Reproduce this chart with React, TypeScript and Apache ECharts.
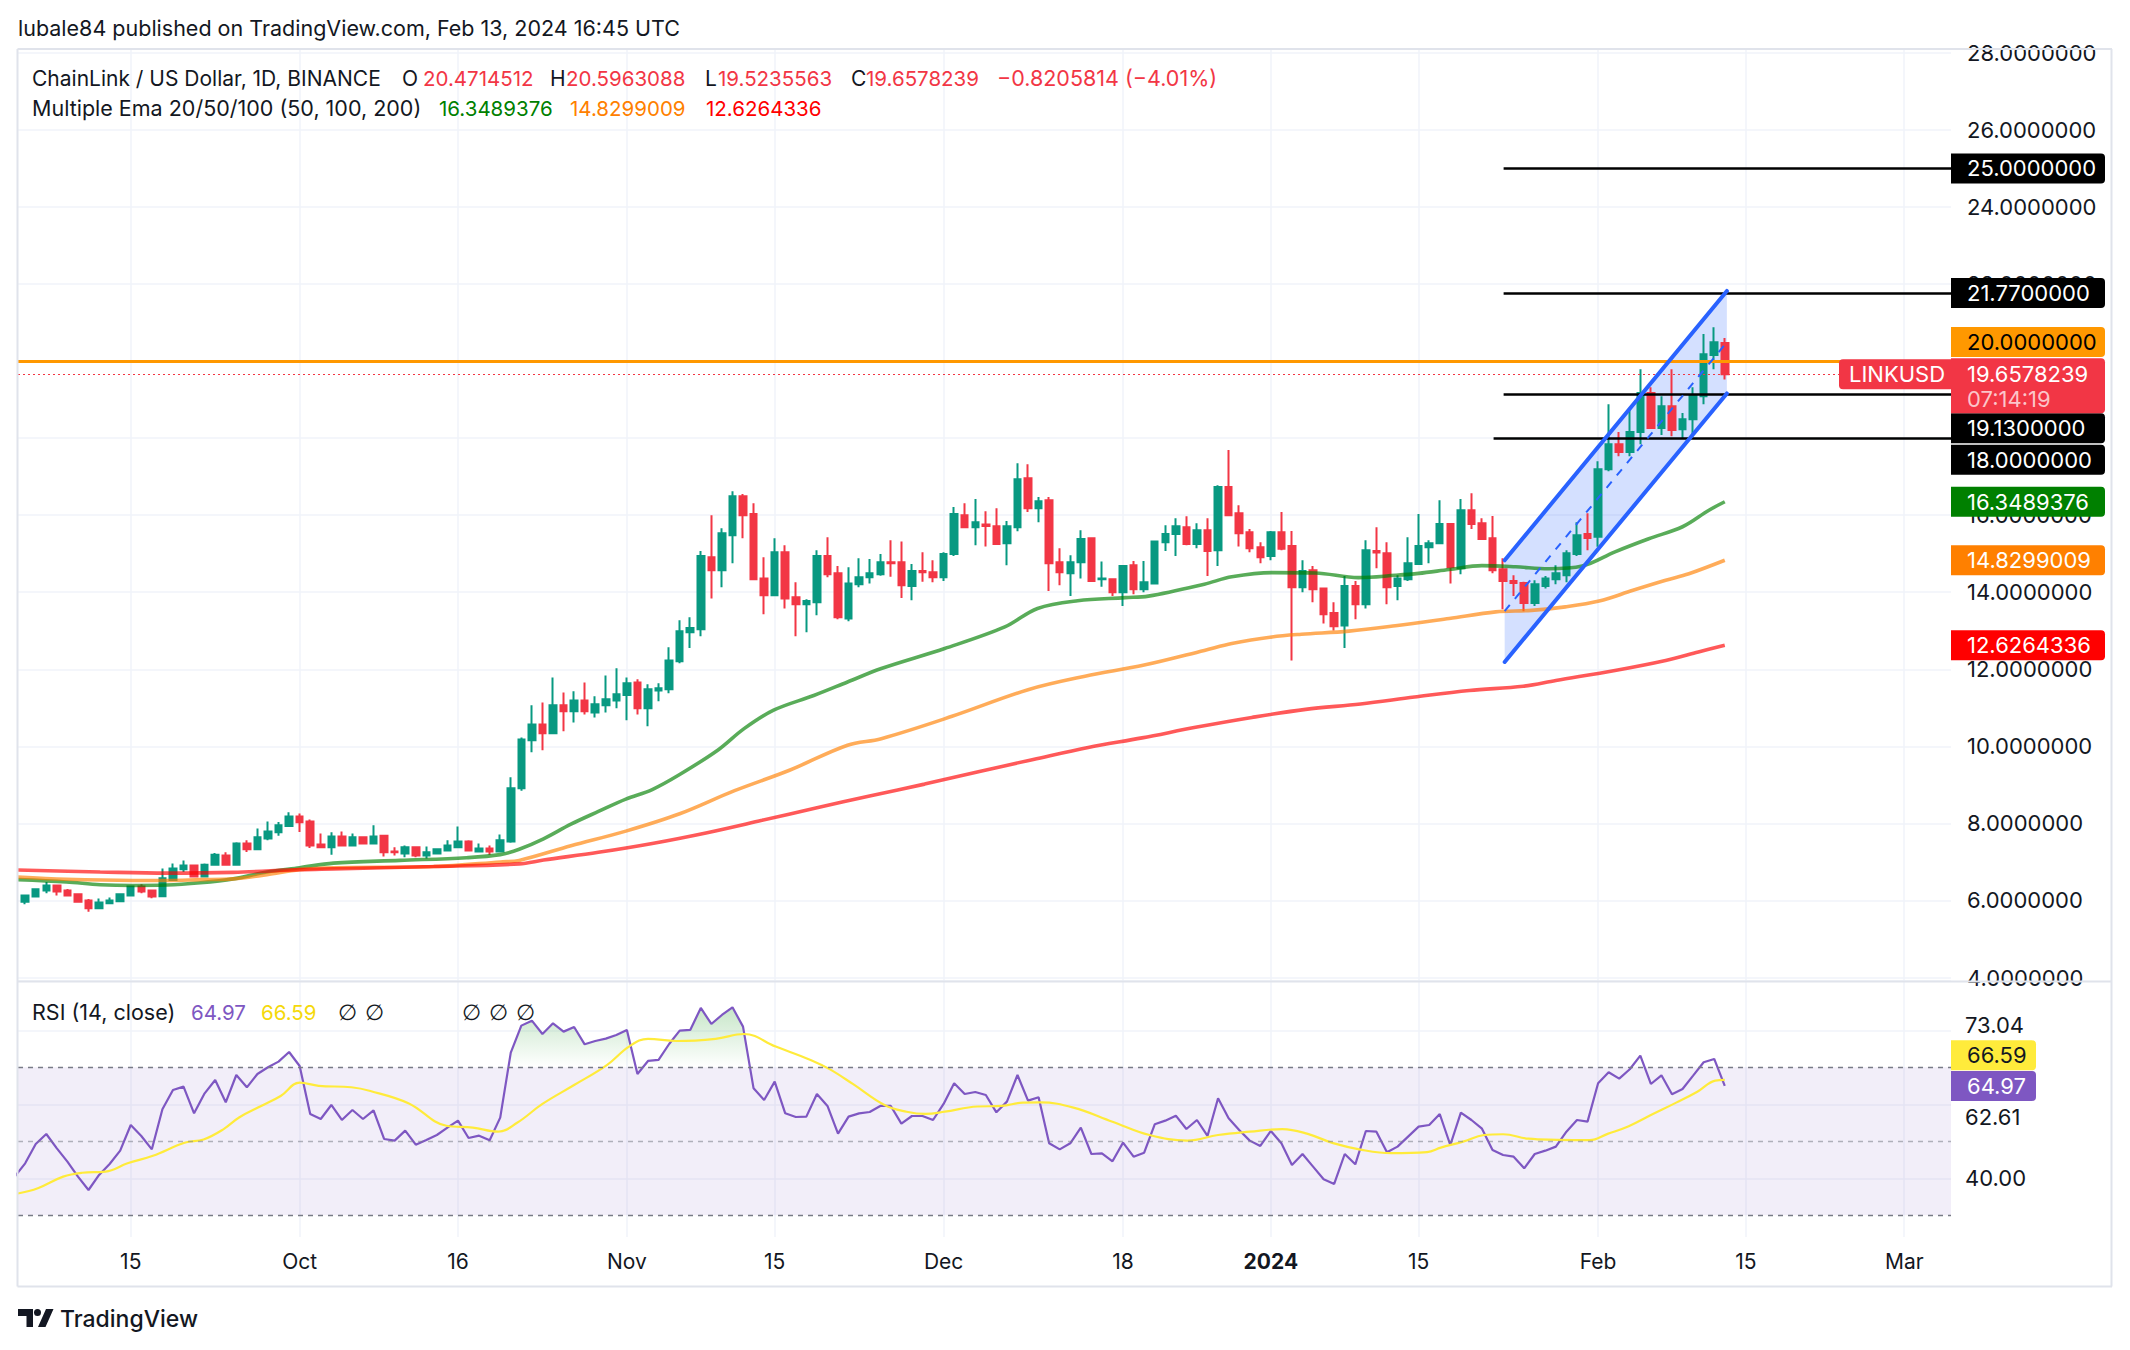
import React, { useEffect, useRef } from "react";
import * as echarts from "echarts";

// ---------------- data ----------------
// daily candles, index 0 = 2023-09-04 ... index 162 = 2024-02-13
const candleOpen = [
  6.04, 5.97, 6.10, 6.26, 6.39, 6.26, 6.16, 6.00, 5.80, 5.93, 5.98, 6.13, 6.36, 6.26, 6.11, 6.53, 6.81, 6.91, 6.62, 6.93, 7.17, 6.93, 7.48, 7.33, 7.61, 7.77, 7.93, 8.18, 8.05, 7.45, 7.38, 7.66, 7.43, 7.64, 7.48, 7.68, 7.27, 7.22, 7.38, 7.17, 7.22, 7.30, 7.38, 7.53, 7.27, 7.35, 7.27, 7.53,
  8.91, 10.16, 10.57, 10.34, 11.07, 10.91, 11.19, 10.88, 11.07, 11.19, 11.33, 11.66, 10.99, 11.45, 11.48, 12.21, 12.96, 13.04, 14.91, 14.57, 15.48, 16.49, 16.03, 14.36, 13.92, 15.04, 13.87, 13.69, 13.74, 14.94, 14.49, 13.32, 14.21, 14.39, 14.47,
  14.78, 14.78, 14.16, 14.55, 14.52, 14.39, 14.99, 16.00, 15.69, 15.76, 15.71, 15.27, 15.69, 16.96, 16.18, 16.39, 14.78, 14.49, 14.78, 15.40, 14.34, 14.34, 14.00, 14.70, 14.08, 14.23, 15.30, 15.51, 15.69, 15.25, 15.61, 15.09, 16.73, 16.05, 15.56, 15.17, 14.94,
  15.56, 15.20, 14.13, 14.57, 14.10, 13.46, 13.14, 14.16, 13.69, 15.07, 15.01, 14.16, 14.34, 14.73, 15.17, 15.27, 15.77, 14.62, 16.13, 15.79, 15.40, 14.60, 14.29,
  14.24, 13.72, 14.16, 14.34, 14.44, 14.99, 15.51, 15.44, 17.19, 17.84, 17.64, 18.16, 19.17, 18.26, 18.83, 18.23, 18.49, 19.09, 20.16, 20.4714512,
];
const candleClose = [
  6.01, 6.13, 6.29, 6.39, 6.23, 6.13, 5.97, 5.80, 5.95, 6.00, 6.16, 6.36, 6.23, 6.10, 6.58, 6.83, 6.91, 6.62, 6.93, 7.19, 6.93, 7.48, 7.33, 7.64, 7.79, 7.95, 8.18, 8.03, 7.43, 7.38, 7.66, 7.43, 7.64, 7.48, 7.66, 7.25, 7.25, 7.38, 7.17, 7.25, 7.33, 7.43, 7.53, 7.30, 7.35, 7.27, 7.56, 8.91,
  10.18, 10.57, 10.34, 11.07, 10.91, 11.19, 10.91, 11.09, 11.22, 11.35, 11.64, 10.99, 11.48, 11.51, 12.23, 12.99, 13.07, 14.94, 14.57, 15.53, 16.49, 16.00, 14.34, 13.92, 15.04, 13.84, 13.69, 13.77, 14.94, 14.47, 13.35, 14.23, 14.39, 14.49, 14.78,
  14.75, 14.18, 14.55, 14.52, 14.39, 14.99, 16.03, 15.69, 15.82, 15.72, 15.25, 15.71, 16.93, 16.18, 16.36, 14.75, 14.52, 14.78, 15.38, 14.29, 14.36, 14.00, 14.68, 14.08, 14.26, 15.32, 15.51, 15.71, 15.25, 15.61, 15.07, 16.73, 16.00, 15.53, 15.14, 14.91, 15.56,
  15.13, 14.13, 14.55, 14.08, 13.43, 13.12, 14.16, 13.69, 15.09, 15.03, 14.13, 14.36, 14.75, 15.20, 15.27, 15.77, 14.65, 16.13, 15.77, 15.38, 14.57, 14.29, 14.24,
  13.72, 14.21, 14.36, 14.49, 15.01, 15.48, 15.41, 17.19, 17.84, 17.64, 18.16, 19.17, 18.26, 18.83, 18.21, 18.49, 19.12, 20.18, 20.49, 19.6578239,
];
const candleLow = [
  5.99, 5.90, 6.09, 6.19, 6.13, 6.12, 5.95, 5.71, 5.80, 5.93, 5.97, 6.10, 6.19, 6.06, 6.10, 6.52, 6.74, 6.62, 6.62, 6.91, 6.93, 6.93, 7.26, 7.33, 7.56, 7.68, 7.93, 7.78, 7.36, 7.36, 7.19, 7.43, 7.43, 7.45, 7.48, 7.14, 7.17, 7.12, 7.12, 7.09, 7.22, 7.27, 7.38, 7.30, 7.27, 7.19, 7.25, 7.50,
  8.85, 9.85, 9.90, 10.34, 10.39, 10.62, 10.83, 10.75, 10.88, 10.99, 10.68, 10.83, 10.52, 11.17, 11.38, 12.16, 12.55, 12.86, 13.84, 14.13, 14.75, 15.40, 14.34, 13.43, 13.92, 13.58, 12.86, 12.96, 13.40, 14.39, 13.30, 13.25, 14.13, 14.23, 14.43,
  14.40, 13.85, 13.79, 14.27, 14.26, 14.29, 14.94, 15.69, 15.22, 15.19, 15.25, 14.70, 15.58, 16.08, 15.82, 14.03, 14.18, 13.90, 14.36, 14.29, 14.14, 13.90, 13.64, 13.95, 14.00, 14.21, 15.07, 14.94, 15.22, 15.14, 14.42, 14.68, 16.00, 15.19, 15.04, 14.75, 14.83,
  15.09, 12.23, 14.00, 13.74, 13.19, 13.01, 12.55, 13.30, 13.58, 14.62, 13.69, 13.79, 14.29, 14.73, 14.75, 15.27, 14.23, 14.47, 15.64, 15.38, 14.49, 13.56, 13.90,
  13.51, 13.64, 14.10, 14.21, 14.26, 14.94, 15.09, 15.18, 17.14, 17.53, 17.53, 17.84, 18.26, 18.08, 18.05, 18.00, 18.05, 18.88, 19.79, 19.5235563,
];
const candleHigh = [
  6.05, 6.14, 6.32, 6.48, 6.40, 6.30, 6.16, 6.04, 6.05, 6.08, 6.16, 6.37, 6.42, 6.26, 6.83, 6.96, 7.04, 6.93, 6.96, 7.23, 7.25, 7.51, 7.56, 7.87, 8.05, 8.04, 8.29, 8.26, 8.10, 7.74, 7.77, 7.79, 7.74, 7.66, 7.95, 7.69, 7.38, 7.43, 7.40, 7.40, 7.35, 7.56, 7.92, 7.56, 7.48, 7.43, 7.71, 9.20,
  10.23, 11.07, 11.14, 11.79, 11.40, 11.43, 11.66, 11.30, 11.84, 12.03, 11.79, 11.74, 11.61, 11.64, 12.57, 13.27, 13.35, 15.07, 16.00, 15.66, 16.62, 16.55, 16.31, 14.91, 15.40, 15.22, 14.26, 13.82, 15.09, 15.43, 14.68, 14.65, 14.88, 14.86, 14.99,
  15.35, 15.32, 14.73, 15.04, 14.83, 15.04, 16.21, 16.31, 16.42, 16.10, 16.18, 15.85, 17.35, 17.32, 16.47, 16.47, 15.14, 14.96, 15.61, 15.40, 14.80, 14.36, 14.70, 14.81, 14.81, 15.32, 15.74, 15.92, 15.97, 15.79, 15.92, 16.78, 17.69, 16.26, 15.64, 15.30, 15.59,
  16.08, 15.59, 14.83, 14.68, 14.10, 13.74, 14.42, 14.29, 15.35, 15.69, 15.30, 14.44, 15.43, 16.03, 15.35, 16.39, 15.77, 16.42, 16.57, 15.92, 15.98, 14.88, 14.44,
  14.27, 14.31, 14.42, 14.70, 15.09, 15.82, 16.05, 17.40, 18.88, 18.16, 18.73, 19.79, 19.32, 19.09, 19.79, 18.65, 19.32, 20.70, 20.88, 20.5963088,
];

// EMA lines, [day index, value]
const ema50Points = [
  [0.3, 6.54], [4.9, 6.48], [8.1, 6.41], [11.2, 6.39], [14.4, 6.40], [17.6, 6.46], [20.7, 6.56], [23.9, 6.74], [27.0, 6.85], [30.2, 6.97], [36.5, 7.04], [42.8, 7.11], [46.0, 7.19], [47.8, 7.33], [50.1, 7.60], [52.7, 7.98], [55.3, 8.31], [57.9, 8.63], [60.4, 8.88], [63.0, 9.27], [66.6, 9.90], [69.1, 10.46], [71.9, 10.94], [75.7, 11.32], [78.9, 11.67], [82.1, 12.02], [88.1, 12.54], [93.8, 13.10], [96.9, 13.58], [100.7, 13.78], [105.2, 13.86], [107.4, 13.90], [112.7, 14.21], [115.3, 14.40], [119.1, 14.51], [123.2, 14.50], [127.3, 14.38], [130.8, 14.44], [133.0, 14.49], [135.9, 14.59], [139.0, 14.69], [142.2, 14.66], [145.3, 14.61], [148.5, 14.68], [151.6, 15.05], [154.8, 15.39], [158.0, 15.70], [160.5, 16.13], [162, 16.3489376],
];
const ema100Points = [
  [0.3, 6.61], [4.9, 6.55], [11.2, 6.52], [14.4, 6.52], [17.6, 6.54], [20.7, 6.56], [23.9, 6.67], [27.0, 6.80], [30.2, 6.85], [39.7, 6.88], [46.0, 7.00], [47.8, 7.04], [52.7, 7.42], [57.9, 7.80], [63.0, 8.25], [68.2, 8.85], [73.4, 9.38], [78.9, 10.03], [82.1, 10.20], [88.8, 10.78], [96.0, 11.47], [101.4, 11.82], [107.0, 12.11], [112.7, 12.49], [115.3, 12.67], [119.1, 12.84], [121.9, 12.91], [126.4, 12.99], [130.8, 13.13], [135.9, 13.32], [140.3, 13.49], [143.7, 13.53], [146.9, 13.62], [150.1, 13.77], [153.3, 14.05], [156.4, 14.31], [158.6, 14.48], [162, 14.8299009],
];
const ema200Points = [
  [0.3, 6.79], [8.1, 6.74], [14.4, 6.71], [20.7, 6.73], [27.0, 6.80], [30.2, 6.82], [39.7, 6.88], [47.8, 6.95], [50.1, 7.05], [55.3, 7.25], [60.4, 7.48], [65.6, 7.76], [70.8, 8.08], [75.9, 8.40], [81.1, 8.72], [86.2, 9.02], [91.4, 9.35], [96.5, 9.66], [101.7, 9.97], [106.8, 10.22], [112.0, 10.50], [117.2, 10.75], [122.3, 10.96], [127.5, 11.10], [132.6, 11.28], [137.8, 11.45], [142.9, 11.56], [146.0, 11.71], [151.6, 11.97], [156.4, 12.23], [159.5, 12.45], [162, 12.6264336],
];

// RSI(14) per candle and its moving average
const rsiValues = [
  40.45, 44.05, 49.28, 51.98, 48.10, 44.50, 40.45, 36.84, 40.90, 43.87, 47.47, 54.41, 51.44, 47.83, 58.65, 63.87, 64.77, 57.56, 62.97, 66.57, 60.54, 67.92, 64.59, 68.19, 70.00, 71.53, 74.14, 70.36, 57.38, 56.03, 59.82, 55.76, 58.46, 56.03, 58.37, 50.63, 50.18, 52.88, 49.10, 50.36, 51.71, 53.69, 55.58, 50.90, 51.53, 50.27, 56.39,
  73.96, 81.26, 82.61, 79.00, 81.89, 79.64, 80.90, 76.21, 77.11, 77.74, 78.74, 80.09, 68.19, 71.71, 71.98, 76.30, 79.91, 80.09, 86.03, 81.71, 84.14, 86.21, 80.99, 64.32, 61.17, 66.12, 57.56, 56.57, 56.66, 62.79, 59.55, 52.07, 56.66, 57.56, 57.92, 59.55, 59.55, 54.77, 56.84, 56.84, 55.76, 60.09, 65.67, 62.79, 63.33, 62.52, 57.83,
  60.72, 67.92, 60.99, 61.89, 49.46, 47.83, 49.46, 53.69, 46.57, 46.75, 44.59, 49.64, 45.85, 46.93, 54.59, 55.58, 56.93, 53.33, 55.76, 51.44, 61.62, 56.21, 53.06, 50.18, 48.74, 52.79, 49.46, 43.60, 46.57, 43.15, 39.73, 38.47, 46.57, 43.78, 52.79, 52.61, 47.02, 48.56, 51.26, 53.96, 54.41, 57.38, 49.00, 57.74, 55.76, 53.42, 47.65, 46.30, 45.85,
  42.70, 46.57, 47.47, 48.56, 52.61, 55.76, 55.31, 65.67, 68.65, 66.93, 69.46, 73.15, 65.49, 67.83, 62.70, 64.14, 67.74, 71.35, 72.25, 64.97,
];
const rsiMaPoints = [
  [0.3, 35.9], [2.2, 37.3], [4.6, 40.45], [6.4, 41.5], [8.6, 41.8], [10.7, 44.05], [13.1, 46.1], [16.1, 49.6], [17.9, 50.5], [19.8, 53.3], [21.3, 56.5], [23.4, 59.6], [25.2, 62.25], [27.0, 65.85], [28.8, 65.0], [31.9, 64.6], [33.7, 63.6], [37.3, 60.3], [40.9, 54.2], [43.4, 53.7], [45.8, 52.6], [47.6, 55.0], [50.0, 60.1], [53.0, 65.2], [56.1, 70.6], [58.2, 75.6], [60.0, 77.7], [62.7, 77.1], [66.4, 77.7], [69.1, 79.0], [72.1, 75.6], [75.4, 72.0], [77.2, 69.5], [79.4, 65.5], [82.4, 59.8], [84.5, 58.0], [86.3, 57.4], [88.1, 58.0], [91.2, 59.4], [93.5, 59.55], [95.5, 60.45], [97.2, 60.5], [100.3, 59.1], [104.0, 55.3], [107.5, 51.7], [111.1, 50.2], [114.0, 51.7], [117.0, 52.6], [120.1, 53.3], [122.5, 52.0], [124.9, 49.5], [127.6, 47.7], [130.4, 46.8], [133.8, 47.1], [135.1, 48.3], [137.2, 49.9], [139.2, 51.7], [141.0, 51.9], [143.4, 50.7], [146.1, 50.4], [149.2, 50.3], [150.9, 52.0], [152.9, 54.1], [155.0, 57.1], [157.4, 60.45], [159.4, 63.4], [161.1, 66.4], [162, 66.59],
];

// time axis ticks (day index from 2023-09-04) and their labels
const timeTickIndex = [11, 27, 42, 58, 72, 88, 105, 119, 133, 150, 164, 179];
const timeTickLabels = ["15", "Oct", "16", "Nov", "15", "Dec", "18", "2024", "15", "Feb", "15", "Mar"];

// price scale labels hidden under the price badges
const coveredPriceLabels = [20, 18];

// RSI pane ticks
const rsiGridLevels = [80, 60, 40];
const rsiTickLabelValues = [81.4, 56.6, 40];
const rsiTickLabelTexts = ["73.04", "62.61", "40.00"];
const rsiGuideLevels = [70, 50, 30];
const rsiLast = 64.97;
const rsiMaLast = 66.59;

// drawings
const levelPrices = [25, 21.77, 19.13, 18];
const levelStartIndex = [141.05, 141.05, 141.05, 140.1];
const resistancePrice = 20;
const lastClose = 19.6578239;
const emaLastValues = [16.3489376, 14.8299009, 12.6264336];
const channelUpper = [[141.15, 14.83], [162.2, 21.82]];
const channelMid = [[141.15, 13.51], [162.2, 20.49]];
const channelLower = [[141.15, 12.19], [162.2, 19.16]];

// ---------------- layout / style ----------------
const W = 2130;
const H = 1350;
const PLOT_L = 18;
const PLOT_R = 1951;
const MAIN_T = 49;
const MAIN_B = 981;
const RSI_T = 982;
const RSI_B = 1237;
const X_MIN = 0.32;
const X_MAX = 183.43;
const PRICE_MIN = 3.91;
const PRICE_MAX = 28.1;
const RSI_MIN = 24.14;
const RSI_MAX = 93.05;
const FONT = 'Inter, "DejaVu Sans", sans-serif';
const TEXT = "#131722";
const GRIDC = "#f0f3fa";
const FRAME = "#e0e3eb";
const UP = "#089981";
const DOWN = "#f23645";
const EMA_COLORS = ["#008000", "#ff8000", "#ff0000"];
const EMA_LINE = ["rgba(0,128,0,0.65)", "rgba(255,128,0,0.65)", "rgba(255,0,0,0.65)"];
const RSI_COLOR = "#7e57c2";
const RSI_MA_COLOR = "#ffeb3b";

const levelBadgeShift = [0, 0, 33.6, 21.6];
const resistanceBadgeShift = -19;
const rsiMaBadgeShift = -24.6;

function rsiPixel(r: number) {
  return RSI_T + ((RSI_MAX - r) / (RSI_MAX - RSI_MIN)) * (RSI_B - RSI_T);
}

function buildOption() {
  const candles = candleOpen.map((o, i) => [i, o, candleClose[i], candleLow[i], candleHigh[i]]);
  const rsiData = rsiValues.map((v, i) => [i, v]);

  const xBase = (gridIndex: number, showLabels: boolean) => ({
    type: "value",
    gridIndex,
    min: X_MIN,
    max: X_MAX,
    axisLine: { show: false },
    axisTick: { show: false, customValues: timeTickIndex },
    splitLine: { show: true, lineStyle: { color: GRIDC, width: 1.5 } },
    axisLabel: {
      show: showLabels,
      customValues: timeTickIndex,
      margin: 14,
      color: TEXT,
      fontSize: 21,
      fontFamily: FONT,
      formatter: (v: number) => {
        const k = timeTickIndex.indexOf(Math.round(v));
        const t = k >= 0 ? timeTickLabels[k] : "";
        return t === "2024" ? "{b|2024}" : t;
      },
      rich: { b: { fontWeight: 700, fontSize: 21, fontFamily: FONT, color: TEXT } },
    },
  });

  const guideLine = (v: number) => ({
    yAxis: v,
    lineStyle: {
      color: v === 50 ? "rgba(120,123,134,0.55)" : "#787b86",
      width: 1.4,
      type: [5, 5],
    },
  });

  return {
    animation: false,
    backgroundColor: "#ffffff",
    grid: [
      { left: PLOT_L, top: MAIN_T, width: PLOT_R - PLOT_L, height: MAIN_B - MAIN_T, containLabel: false, outerBoundsMode: "none" },
      { left: PLOT_L, top: RSI_T, width: PLOT_R - PLOT_L, height: RSI_B - RSI_T, containLabel: false, outerBoundsMode: "none" },
    ],
    xAxis: [xBase(0, false), xBase(1, true)],
    yAxis: [
      {
        type: "value",
        gridIndex: 0,
        position: "right",
        min: PRICE_MIN,
        max: PRICE_MAX,
        minInterval: 2,
        maxInterval: 2,
        axisLine: { show: false },
        axisTick: { show: false },
        splitLine: { show: true, lineStyle: { color: GRIDC, width: 1.5 } },
        axisLabel: {
          margin: 16,
          align: "left",
          color: TEXT,
          fontSize: 22,
          fontFamily: FONT,
          showMinLabel: false,
          showMaxLabel: false,
          formatter: (v: number) =>
            coveredPriceLabels.some((c) => Math.abs(c - v) < 1e-6) ? "" : v.toFixed(7),
        },
      },
      {
        type: "value",
        gridIndex: 1,
        position: "right",
        min: RSI_MIN,
        max: RSI_MAX,
        axisLine: { show: false },
        axisTick: { show: false, customValues: rsiGridLevels },
        splitLine: { show: true, lineStyle: { color: GRIDC, width: 1.5 } },
        axisLabel: { show: false },
      },
      {
        type: "value",
        gridIndex: 1,
        position: "right",
        min: RSI_MIN,
        max: RSI_MAX,
        axisLine: { show: false },
        axisTick: { show: false },
        splitLine: { show: false },
        axisLabel: {
          customValues: rsiTickLabelValues,
          margin: 14,
          align: "left",
          color: TEXT,
          fontSize: 22,
          fontFamily: FONT,
          formatter: (v: number) => {
            let best = 0;
            rsiTickLabelValues.forEach((t, k) => {
              if (Math.abs(t - v) < Math.abs(rsiTickLabelValues[best] - v)) best = k;
            });
            return rsiTickLabelTexts[best];
          },
        },
      },
    ],
    series: [
      {
        type: "custom",
        name: "channelFill",
        xAxisIndex: 0,
        yAxisIndex: 0,
        silent: true,
        z: 1,
        data: [channelUpper[0]],
        renderItem: (_p: any, api: any) => ({
          type: "polygon",
          shape: {
            points: [
              api.coord(channelUpper[0]),
              api.coord(channelUpper[1]),
              api.coord(channelLower[1]),
              api.coord(channelLower[0]),
            ],
          },
          style: { fill: "rgba(41,98,255,0.2)" },
        }),
      },
      {
        type: "candlestick",
        name: "LINKUSD",
        xAxisIndex: 0,
        yAxisIndex: 0,
        z: 2,
        barWidth: 7,
        data: candles,
        itemStyle: { color: UP, color0: DOWN, borderColor: UP, borderColor0: DOWN, borderWidth: 2 },
        markLine: {
          silent: true,
          symbol: ["none", "none"],
          label: { show: false },
          data: [
            [
              { coord: [X_MIN, resistancePrice], lineStyle: { color: "#ff9800", width: 3, type: "solid" } },
              { coord: [X_MAX, resistancePrice] },
            ],
            [
              { coord: [X_MIN, lastClose], lineStyle: { color: DOWN, width: 1.2, type: [2, 3] } },
              { coord: [X_MAX, lastClose] },
            ],
            ...levelPrices.map((p, k) => [
              { coord: [levelStartIndex[k], p], lineStyle: { color: "#000000", width: 2.6, type: "solid" } },
              { coord: [X_MAX, p] },
            ]),
          ],
        },
      },
      ...[ema50Points, ema100Points, ema200Points].map((pts, k) => ({
        type: "line",
        name: ["EMA50", "EMA100", "EMA200"][k],
        xAxisIndex: 0,
        yAxisIndex: 0,
        z: 3,
        data: pts,
        smooth: 0.35,
        showSymbol: false,
        symbol: "none",
        lineStyle: { color: EMA_LINE[k], width: 3.6 },
      })),
      {
        type: "line",
        name: "channelUpper",
        xAxisIndex: 0,
        yAxisIndex: 0,
        z: 5,
        data: channelUpper,
        symbol: "none",
        lineStyle: { color: "#2962ff", width: 4, cap: "round" },
      },
      {
        type: "line",
        name: "channelLower",
        xAxisIndex: 0,
        yAxisIndex: 0,
        z: 5,
        data: channelLower,
        symbol: "none",
        lineStyle: { color: "#2962ff", width: 4, cap: "round" },
      },
      {
        type: "line",
        name: "channelMid",
        xAxisIndex: 0,
        yAxisIndex: 0,
        z: 5,
        data: channelMid,
        symbol: "none",
        lineStyle: { color: "#2962ff", width: 2, type: [8, 8] },
      },
      {
        type: "line",
        name: "rsiBand",
        xAxisIndex: 1,
        yAxisIndex: 1,
        z: 1,
        data: rsiData,
        symbol: "none",
        silent: true,
        lineStyle: { opacity: 0 },
        markArea: {
          silent: true,
          itemStyle: { color: "rgba(126,87,194,0.1)" },
          data: [[{ yAxis: rsiGuideLevels[0] }, { yAxis: rsiGuideLevels[2] }]],
        },
        markLine: {
          silent: true,
          symbol: ["none", "none"],
          label: { show: false },
          data: rsiGuideLevels.map(guideLine),
        },
      },
      {
        type: "line",
        name: "RSI",
        xAxisIndex: 1,
        yAxisIndex: 1,
        z: 3,
        data: rsiData,
        symbol: "none",
        lineStyle: { color: RSI_COLOR, width: 2.2 },
        areaStyle: {
          color: new echarts.graphic.LinearGradient(
            0,
            rsiPixel(90),
            0,
            rsiPixel(70),
            [
              { offset: 0, color: "rgba(76,175,80,0.55)" },
              { offset: 1, color: "rgba(76,175,80,0)" },
            ],
            true
          ),
        },
      },
      {
        type: "line",
        name: "RSI MA",
        xAxisIndex: 1,
        yAxisIndex: 1,
        z: 4,
        data: rsiMaPoints,
        smooth: 0.4,
        symbol: "none",
        lineStyle: { color: RSI_MA_COLOR, width: 2.2 },
      },
    ],
  };
}

function tvText(x: number, y: number, text: string, fill: string, size = 20, weight = 400, family = FONT) {
  return {
    type: "text",
    x,
    y,
    silent: true,
    z: 100,
    style: { text, fill, font: `${weight} ${size}px ${family}`, align: "left", verticalAlign: "middle" },
  };
}

function tvRect(x: number, y: number, w: number, h: number, fill: string, r: number[] | number) {
  return { type: "rect", silent: true, z: 95, shape: { x, y, width: w, height: h, r }, style: { fill } };
}

function frameLine(x1: number, y1: number, x2: number, y2: number) {
  return { type: "line", silent: true, z: 90, shape: { x1, y1, x2, y2 }, style: { stroke: FRAME, lineWidth: 2 } };
}

const LOGO_PATH =
  "M0 0H15V18H8.5V7H0Z M16 3.5A3.5 3.5 0 1 1 23 3.5A3.5 3.5 0 1 1 16 3.5Z M28 0H35.5L27.5 18H20Z";

let logoRegistered = false;

export default function App() {
  const ref = useRef<HTMLDivElement>(null);

  useEffect(() => {
    if (!ref.current) return;
    if (!logoRegistered) {
      echarts.graphic.registerShape("tvlogo", echarts.graphic.extendPath(LOGO_PATH, {}));
      logoRegistered = true;
    }
    const chart = echarts.init(ref.current, null, { renderer: "svg", width: W, height: H });
    chart.setOption(buildOption() as any);

    const py = (v: number) => chart.convertToPixel({ yAxisIndex: 0 } as any, v) as number;
    const ry = (v: number) => chart.convertToPixel({ yAxisIndex: 2 } as any, v) as number;
    const axisX = chart.convertToPixel({ xAxisIndex: 0 } as any, X_MAX) as number;
    const BW = 154;
    const BH = 30;
    const badgeText = (y: number, text: string, fill: string) => tvText(axisX + 16, y, text, fill, 22, 400);

    const g: any[] = [];
    // header + legends
    g.push(tvText(18, 28, "lubale84 published on TradingView.com, Feb 13, 2024 16:45 UTC", TEXT, 21.5));
    g.push(tvText(32, 78, "ChainLink / US Dollar, 1D, BINANCE", TEXT, 21));
    const ohlc: [number, string, number, string][] = [
      [402, "O", 423, "20.4714512"],
      [550, "H", 566, "20.5963088"],
      [705, "L", 718, "19.5235563"],
      [851, "C", 866, "19.6578239"],
    ];
    ohlc.forEach(([x1, l, x2, v]) => {
      g.push(tvText(x1, 78, l, TEXT, 21));
      g.push(tvText(x2, 78, v, DOWN, 20.5));
    });
    g.push(tvText(997, 78, "\u22120.8205814 (\u22124.01%)", DOWN, 21.5));
    g.push(tvText(32, 108, "Multiple Ema 20/50/100 (50, 100, 200)", TEXT, 21.5));
    [439, 570, 706].forEach((x, k) => g.push(tvText(x, 108, emaLastValues[k].toFixed(7), EMA_COLORS[k], 20.5)));
    // RSI legend
    g.push(tvText(32, 1012, "RSI (14, close)", TEXT, 21.5));
    g.push(tvText(191, 1012, rsiLast.toFixed(2), RSI_COLOR, 20.5));
    g.push(tvText(261, 1012, rsiMaLast.toFixed(2), "#f5d90a", 20.5));
    [338, 365, 462, 489, 516].forEach((x) => g.push(tvText(x, 1012, "\u2205", TEXT, 22, 400, '"DejaVu Sans", sans-serif')));

    // frame
    g.push(frameLine(PLOT_L - 0.5, MAIN_T, 2112, MAIN_T));
    g.push(frameLine(PLOT_L - 0.5, MAIN_B + 0.5, 2112, MAIN_B + 0.5));
    g.push(frameLine(PLOT_L - 0.5, 1286.5, 2112, 1286.5));
    g.push(frameLine(PLOT_L - 0.5, MAIN_T, PLOT_L - 0.5, 1286.5));
    g.push(frameLine(2111.5, MAIN_T, 2111.5, 1286.5));

    // price badges
    levelPrices.forEach((p, k) => {
      const y = py(p) + levelBadgeShift[k];
      g.push(tvRect(axisX, y - BH / 2, BW, BH, "#000000", [0, 4, 4, 0]));
      g.push(badgeText(y, p.toFixed(7), "#ffffff"));
    });
    {
      const y = py(resistancePrice) + resistanceBadgeShift;
      g.push(tvRect(axisX, y - BH / 2, BW, BH, "#ff9800", [0, 4, 4, 0]));
      g.push(badgeText(y, resistancePrice.toFixed(7), "#000000"));
    }
    {
      const y = py(lastClose);
      g.push(tvRect(axisX, y - 16, BW, 55, DOWN, [0, 4, 4, 0]));
      g.push(badgeText(y, lastClose.toFixed(7), "#ffffff"));
      g.push(badgeText(y + 25, "07:14:19", "rgba(255,255,255,0.72)"));
      g.push(tvRect(axisX - 112, y - 15, 112, 30, DOWN, [4, 0, 0, 4]));
      g.push(tvText(axisX - 102, y, "LINKUSD", "#ffffff", 22));
    }
    emaLastValues.forEach((v, k) => {
      const y = py(v);
      g.push(tvRect(axisX, y - BH / 2, BW, BH, EMA_COLORS[k], [0, 4, 4, 0]));
      g.push(badgeText(y, v.toFixed(7), "#ffffff"));
    });
    // RSI badges
    {
      const y1 = ry(rsiMaLast) + rsiMaBadgeShift;
      g.push(tvRect(axisX, y1 - BH / 2, 85, BH, RSI_MA_COLOR, [0, 4, 4, 0]));
      g.push(badgeText(y1, rsiMaLast.toFixed(2), TEXT));
      const y2 = ry(rsiLast);
      g.push(tvRect(axisX, y2 - BH / 2, 85, BH, RSI_COLOR, [0, 4, 4, 0]));
      g.push(badgeText(y2, rsiLast.toFixed(2), "#ffffff"));
    }
    // footer logo
    g.push({ type: "tvlogo", x: 18, y: 1309, scaleX: 1, scaleY: 1, silent: true, z: 100, style: { fill: TEXT } });
    g.push(tvText(60, 1319, "TradingView", TEXT, 23, 500));

    chart.setOption({ graphic: g } as any);

    return () => {
      chart.dispose();
    };
  }, []);

  return (
    <div
      ref={ref}
      style={{ position: "absolute", left: 0, top: 0, width: W, height: H, background: "#ffffff" }}
    />
  );
}
